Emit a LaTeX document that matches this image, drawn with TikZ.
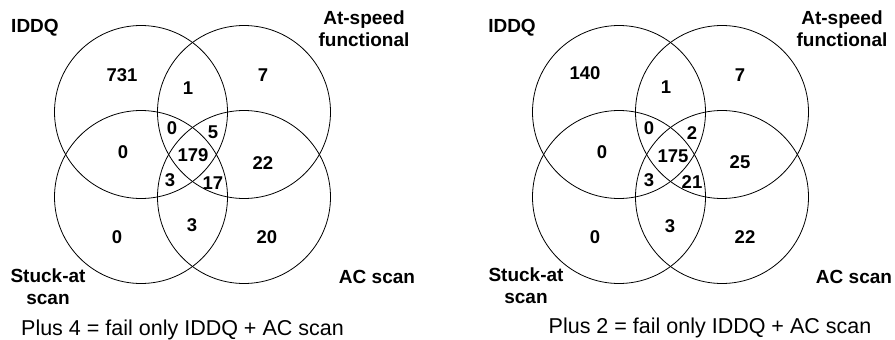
\documentclass[tikz,border=0pt]{standalone}
\usepackage{fontspec}
\setmainfont{Liberation Sans}
\begin{document}
\begin{tikzpicture}[x=1pt,y=-1pt,
  venn/.style={circle,draw=black,line width=0.8pt,minimum size=173pt,inner sep=0pt},
  num/.style={font=\fontsize{18.5}{22}\selectfont\bfseries,inner sep=0pt},
  setlabel/.style={font=\fontsize{19}{22}\selectfont\bfseries,align=center,inner sep=0pt},
  note/.style={font=\fontsize{21.5}{24}\selectfont,inner sep=0pt}]
\useasboundingbox (0,0) rectangle (895,340);
% ---------- left diagram ----------
\node[venn] (LI) at (141,112) {};
\node[venn] (LF) at (244,112) {};
\node[venn] (LS) at (141,197) {};
\node[venn] (LA) at (244,197) {};
\node[setlabel] (LtI) at (35,28) {IDDQ};
\node[setlabel] (LtF) at (364,29) {At-speed\\functional};
\node[setlabel] (LtS) at (48,287) {Stuck-at\\scan};
\node[setlabel] (LtA) at (377,277) {AC scan};
\node[num] (l1) at (122,75) {731};
\node[num] (l2) at (188,88) {1};
\node[num] (l3) at (263,75) {7};
\node[num] (l4) at (123,152) {0};
\node[num] (l5) at (172,128) {0};
\node[num] (l6) at (213,132) {5};
\node[num] (l7) at (193,155) {179};
\node[num] (l8) at (263,163) {22};
\node[num] (l9) at (170,180) {3};
\node[num] (l10) at (213,183) {17};
\node[num] (l11) at (117,237) {0};
\node[num] (l12) at (192,225) {3};
\node[num] (l13) at (267,237) {20};
\node[note] (Lplus) at (182.5,330) {Plus 4 = fail only IDDQ + AC scan};
% ---------- right diagram ----------
\node[venn] (RI) at (619,112) {};
\node[venn] (RF) at (722,112) {};
\node[venn] (RS) at (619,197) {};
\node[venn] (RA) at (722,197) {};
\node[setlabel] (RtI) at (512,28) {IDDQ};
\node[setlabel] (RtF) at (842,29) {At-speed\\functional};
\node[setlabel] (RtS) at (526,286) {Stuck-at\\scan};
\node[setlabel] (RtA) at (854,277) {AC scan};
\node[num] (r1) at (585,73) {140};
\node[num] (r2) at (666,87) {1};
\node[num] (r3) at (740,75) {7};
\node[num] (r4) at (602,152) {0};
\node[num] (r5) at (649,128) {0};
\node[num] (r6) at (692,133) {2};
\node[num] (r7) at (673,156) {175};
\node[num] (r8) at (740,162) {25};
\node[num] (r9) at (649,180) {3};
\node[num] (r10) at (692,182) {21};
\node[num] (r11) at (595,237) {0};
\node[num] (r12) at (670,226) {3};
\node[num] (r13) at (745,237) {22};
\node[note] (Rplus) at (710,328) {Plus 2 = fail only IDDQ + AC scan};
\end{tikzpicture}
\end{document}
